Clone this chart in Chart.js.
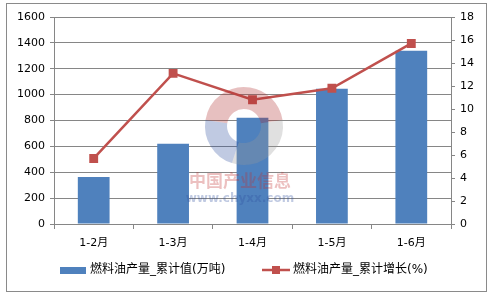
<!DOCTYPE html>
<html>
<head>
<meta charset="utf-8">
<script src="https://cdn.jsdelivr.net/npm/chart.js@4"></script>
<style>
  html, body { margin: 0; padding: 0; background: #fff; }
  #wrap { width: 489px; height: 295px; }
</style>
</head>
<body>
<div id="wrap"><canvas id="chart" width="489" height="295"></canvas></div>
<script>
const months = ['1-2月', '1-3月', '1-4月', '1-5月', '1-6月'];
const outputValues = [364, 620, 821, 1045, 1340];
const growthValues = [5.7, 13.1, 10.8, 11.8, 15.7];
const barLabel = '燃料油产量_累计值(万吨)';
const lineLabel = '燃料油产量_累计增长(%)';

const barColor = '#4F81BD';
const lineColor = '#C0504D';
const gridColor = '#868686';
const fontFamily = '"DejaVu Sans", "Noto Sans CJK SC", sans-serif';

// frame, watermark and legend drawn by hand
const decorPlugin = {
    id: 'decor',
    beforeDraw(chart) {
        const ctx = chart.ctx;
        ctx.save();
        ctx.fillStyle = '#fff';
        ctx.fillRect(0, 0, chart.width, chart.height);
        ctx.strokeStyle = '#8a8a8a';
        ctx.lineWidth = 1;
        ctx.strokeRect(6.5, 3.5, 480, 288);
        ctx.restore();
    },
    afterDatasetsDraw(chart) {
        const ctx = chart.ctx;
        ctx.save();
        // watermark logo
        const cx = 244, cy = 126, r = 28;
        ctx.lineWidth = 22;
        ctx.globalAlpha = 0.3;
        ctx.strokeStyle = '#b03030';
        ctx.beginPath(); ctx.arc(cx, cy, r, Math.PI * 1.05, Math.PI * 1.95); ctx.stroke();
        ctx.strokeStyle = '#999';
        ctx.beginPath(); ctx.arc(cx, cy, r, Math.PI * 1.95, Math.PI * 2.6); ctx.stroke();
        ctx.strokeStyle = '#3050a0';
        ctx.beginPath(); ctx.arc(cx, cy, r, Math.PI * 0.6, Math.PI * 1.05); ctx.stroke();
        ctx.globalAlpha = 0.3;
        ctx.textAlign = 'center';
        ctx.textBaseline = 'middle';
        ctx.fillStyle = '#c03030';
        ctx.font = 'bold 17px "Noto Sans CJK SC", sans-serif';
        ctx.fillText('中国产业信息', 240, 181);
        ctx.fillStyle = '#3050a0';
        ctx.font = 'bold 12px "DejaVu Sans", sans-serif';
        ctx.fillText('www.chyxx.com', 240, 199);
        ctx.restore();
    },
    afterDraw(chart) {
        const ctx = chart.ctx;
        ctx.save();
        ctx.font = '12px ' + fontFamily;
        ctx.textBaseline = 'middle';
        // bar legend
        ctx.fillStyle = barColor;
        ctx.fillRect(60, 267, 26, 7);
        ctx.fillStyle = '#000';
        ctx.fillText(barLabel, 90, 270);
        // line legend
        ctx.strokeStyle = lineColor;
        ctx.lineWidth = 2.5;
        ctx.beginPath(); ctx.moveTo(262, 270); ctx.lineTo(290, 270); ctx.stroke();
        ctx.fillStyle = lineColor;
        ctx.fillRect(272, 266, 8, 8);
        ctx.fillStyle = '#000';
        ctx.fillText(lineLabel, 293, 270);
        ctx.restore();
    }
};

const plainTick = value => String(value);

new Chart(document.getElementById('chart').getContext('2d'), {
    type: 'bar',
    data: {
        labels: months,
        datasets: [
            {
                type: 'line',
                label: lineLabel,
                data: growthValues,
                yAxisID: 'y1',
                borderColor: lineColor,
                backgroundColor: lineColor,
                borderWidth: 2.5,
                pointStyle: 'rect',
                pointRadius: 4.5,
                pointBackgroundColor: lineColor,
                pointBorderColor: lineColor,
                tension: 0,
                order: 0
            },
            {
                label: barLabel,
                data: outputValues,
                yAxisID: 'y',
                backgroundColor: barColor,
                categoryPercentage: 0.8,
                barPercentage: 0.5,
                order: 1
            }
        ]
    },
    options: {
        responsive: false,
        animation: false,
        layout: { padding: { left: 0, right: 0, top: 17, bottom: 0 } },
        plugins: {
            legend: { display: false },
            tooltip: { enabled: false }
        },
        scales: {
            x: {
                offset: true,
                grid: { display: true, drawOnChartArea: false, offset: true, tickLength: 5, color: gridColor },
                border: { color: gridColor },
                ticks: { color: '#000', font: { family: fontFamily, size: 11 }, padding: 8 },
                afterFit(scale) { scale.height = 71; }
            },
            y: {
                position: 'left',
                min: 0,
                max: 1600,
                ticks: { stepSize: 200, callback: plainTick, color: '#000', font: { family: fontFamily, size: 11 }, padding: 5 },
                grid: { color: gridColor, tickLength: 4 },
                border: { color: gridColor },
                afterFit(scale) { scale.width = 54; }
            },
            y1: {
                position: 'right',
                min: 0,
                max: 18,
                ticks: { stepSize: 2, callback: plainTick, color: '#000', font: { family: fontFamily, size: 11 }, padding: 5 },
                grid: { drawOnChartArea: false, color: gridColor, tickLength: 4 },
                border: { color: gridColor },
                afterFit(scale) { scale.width = 38; }
            }
        }
    },
    plugins: [decorPlugin]
});
</script>
</body>
</html>
